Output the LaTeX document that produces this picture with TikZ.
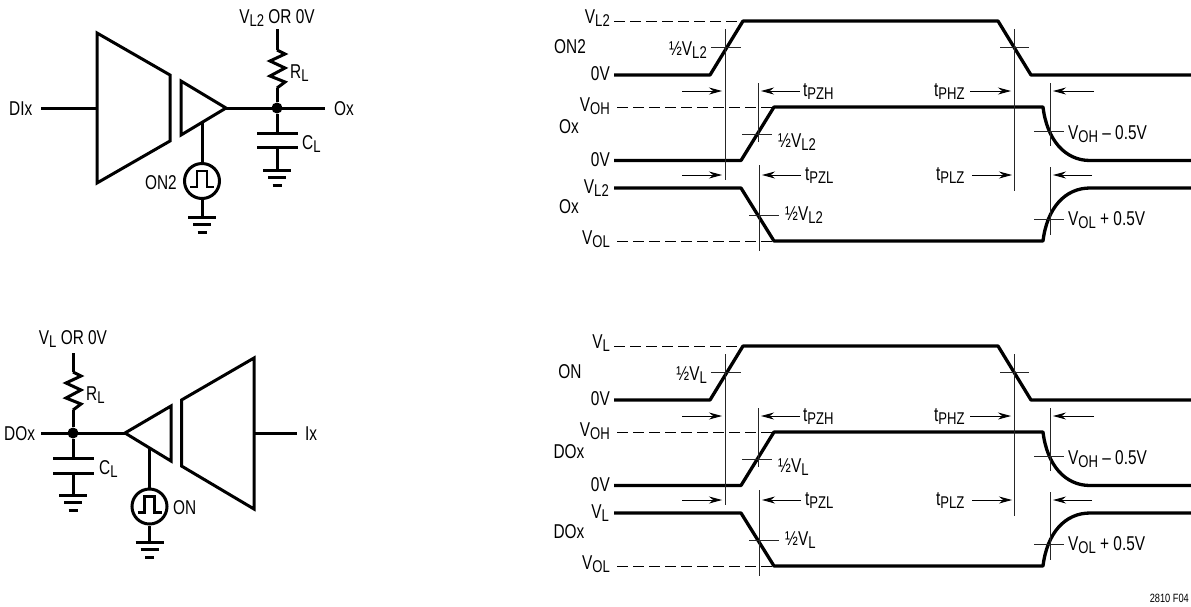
\documentclass[tikz,border=0pt]{standalone}
\usepackage{fontspec}
\setmainfont[FakeStretch=0.77]{Liberation Sans}
\usetikzlibrary{arrows.meta}
\newcommand{\lo}[1]{\raisebox{-3.5pt}{\fontsize{17}{17}\selectfont #1}}
\tikzset{
	wire/.style={line width=3pt,line join=miter},
	wave/.style={line width=3.3pt,line join=round},
	thin rule/.style={line width=0.9pt,black!85},
	dash rule/.style={line width=0.9pt,dash pattern=on 11pt off 5pt},
	timing arrow/.style={line width=0.9pt,-{Stealth[length=13pt,width=7pt]}},
	lbl/.style={inner sep=0pt,font=\fontsize{20}{22}\selectfont},
	dotnode/.style={circle,fill=black,inner sep=0pt,minimum size=11pt},
	srcnode/.style={circle,draw=black,line width=3pt,inner sep=0pt,minimum size=35pt},
	gnd/.pic={
		\draw[wire] (-14,0) -- (14,0);
		\draw[wire] (-9,7.5) -- (9,7.5);
		\draw[wire] (-4.5,15) -- (4.5,15);
	},
	res/.pic={
		\draw[wire] (0,0) -- (8,4) -- (-7,11) -- (8,18) -- (-7,26) -- (8,32) -- (0,38);
	},
	pulse/.pic={
		\draw[line width=2.2pt] (-12,6) -- (-5,6) -- (-5,-10) -- (5,-10) -- (5,6) -- (12,6);
	},
}
\begin{document}
\begin{tikzpicture}[x=1pt,y=-1pt]
	\useasboundingbox (0,0) rectangle (1191,606);

	% upper circuit
	\coordinate (a0) at (41,108);
	\coordinate (a1) at (97,108);
	\coordinate (a2) at (226,108);
	\coordinate (a3) at (325,108);
	\coordinate (a4) at (277,29);
	\coordinate (a5) at (277,50);
	\coordinate (a6) at (277,88);
	\coordinate (a7) at (277,133);
	\coordinate (a8) at (277,147);
	\coordinate (a9) at (277,170);
	\coordinate (a10) at (202,122);
	\coordinate (a11) at (202,217);

	\draw[wire] (97,33) -- (170,75) -- (170,141) -- (97,183) -- cycle;
	\draw[wire] (181,81) -- (a2) -- (181,135) -- cycle;
	\draw[wire] (a0) -- (a1);
	\draw[wire] (a2) -- (a3);
	\node[dotnode] (n0) at (277,108) {};
	\draw[wire] (a4) -- (a5);
	\pic at (a5) {res};
	\draw[wire] (a6) -- (n0);
	\draw[wire] (n0) -- (a7);
	\draw[wire] (257,133) -- (298,133);
	\draw[wire] (257,147) -- (298,147);
	\draw[wire] (a8) -- (a9);
	\pic at (a9) {gnd};
	\node[srcnode] (s0) at (202,181) {};
	\pic at (s0) {pulse};
	\draw[wire] (a10) -- (s0);
	\draw[wire] (s0) -- (a11);
	\pic at (a11) {gnd};

	\node[lbl,anchor=base west] (dix) at (9,115) {DIx};
	\node[lbl,anchor=base west] (ox0) at (334,115) {Ox};
	\node[lbl,anchor=base] (vl2or) at (277,23) {V\lo{L2} OR 0V};
	\node[lbl,anchor=base west] (rl0) at (290,78) {R\lo{L}};
	\node[lbl,anchor=base west] (cl0) at (302,149) {C\lo{L}};
	\node[lbl,anchor=base east] (on2) at (177,189) {ON2};

	% lower circuit
	\coordinate (b0) at (41,433);
	\coordinate (b1) at (125,433);
	\coordinate (b2) at (254,433);
	\coordinate (b3) at (297,433);
	\coordinate (b4) at (73,353);
	\coordinate (b5) at (73,372);
	\coordinate (b6) at (73,410);
	\coordinate (b7) at (73,458);
	\coordinate (b8) at (73,473);
	\coordinate (b9) at (73,495);
	\coordinate (b10) at (149.5,449);
	\coordinate (b11) at (149.5,542);

	\draw[wire] (254,358) -- (254,509) -- (181.5,466) -- (181.5,400) -- cycle;
	\draw[wire] (171,406) -- (b1) -- (171,461) -- cycle;
	\draw[wire] (b2) -- (b3);
	\draw[wire] (b0) -- (b1);
	\node[dotnode] (n1) at (73,433) {};
	\draw[wire] (b4) -- (b5);
	\pic at (b5) {res};
	\draw[wire] (b6) -- (n1);
	\draw[wire] (n1) -- (b7);
	\draw[wire] (53,458) -- (94,458);
	\draw[wire] (53,473) -- (94,473);
	\draw[wire] (b8) -- (b9);
	\pic at (b9) {gnd};
	\node[srcnode] (s1) at (149.5,506.5) {};
	\pic at (s1) {pulse};
	\draw[wire] (b10) -- (s1);
	\draw[wire] (s1) -- (b11);
	\pic at (b11) {gnd};

	\node[lbl,anchor=base west] (dox) at (4,440) {DOx};
	\node[lbl,anchor=base west] (ix) at (305,440) {Ix};
	\node[lbl,anchor=base] (vlor) at (73,344) {V\lo{L} OR 0V};
	\node[lbl,anchor=base west] (rl1) at (86,400) {R\lo{L}};
	\node[lbl,anchor=base west] (cl1) at (99,474) {C\lo{L}};
	\node[lbl,anchor=base west] (on) at (173,514) {ON};

	% timing panels, the lower one is the upper one moved down
	\foreach \ofs/\pfx/\vsub/\onlab/\olab in {0/p/L2/ON2/Ox,325/q/L/ON/DOx}{
	\begin{scope}[shift={(0,\ofs)}]
		\draw[wave] (614,75) -- (710,75) -- (743,21) -- (998,21) -- (1031,75) -- (1191,75);
		\draw[wave] (614,160.5) -- (741,160.5) -- (774,107) -- (1043,107)
			.. controls (1047,140) and (1065,160.5) .. (1090,160.5) -- (1191,160.5);
		\draw[wave] (614,188) -- (741,188) -- (774,241) -- (1043,241)
			.. controls (1047,208) and (1065,188) .. (1090,188) -- (1191,188);

		\draw[dash rule] (614,21) -- (743,21);
		\draw[dash rule] (617,107) -- (774,107);
		\draw[dash rule] (617,241) -- (774,241);

		\draw[thin rule] (725,29) -- (725,180);
		\draw[thin rule] (758,83) -- (758,142);
		\draw[thin rule] (759,165) -- (759,251);
		\draw[thin rule] (1014.5,29) -- (1014.5,191);
		\draw[thin rule] (1050,83) -- (1050,146);
		\draw[thin rule] (1050,167) -- (1050,235);

		\draw[thin rule] (711,47) -- (741,47);
		\draw[thin rule] (742,134) -- (772,134);
		\draw[thin rule] (749,215) -- (779,215);
		\draw[thin rule] (1000,47) -- (1029,47);
		\draw[thin rule] (1034,131) -- (1064,131);
		\draw[thin rule] (1034,219) -- (1064,219);

		\draw[timing arrow] (682,91) -- (722,91);
		\draw[timing arrow] (800,91) -- (761,91);
		\draw[timing arrow] (682,175) -- (722,175);
		\draw[timing arrow] (801,175) -- (762,175);
		\draw[timing arrow] (970,91) -- (1011,91);
		\draw[timing arrow] (1094,91) -- (1053,91);
		\draw[timing arrow] (972,175) -- (1012,175);
		\draw[timing arrow] (1092,175) -- (1053,175);

		\node[lbl,anchor=base] (\pfx on) at (570,53) {\onlab};
		\node[lbl,anchor=base] (\pfx ox) at (569,133) {\olab};
		\node[lbl,anchor=base] (\pfx oy) at (569,213) {\olab};

		\node[lbl,anchor=base east] (\pfx v0) at (610,23) {V\lo{\vsub}};
		\node[lbl,anchor=base east] (\pfx v1) at (610,80) {0V};
		\node[lbl,anchor=base east] (\pfx v2) at (610,111) {V\lo{OH}};
		\node[lbl,anchor=base east] (\pfx v3) at (610,166) {0V};
		\node[lbl,anchor=base east] (\pfx v4) at (609,193) {V\lo{\vsub}};
		\node[lbl,anchor=base east] (\pfx v5) at (610,244) {V\lo{OL}};

		\node[lbl,anchor=base east] (\pfx h0) at (707,55) {½V\lo{\vsub}};
		\node[lbl,anchor=base west] (\pfx h1) at (778,147) {½V\lo{\vsub}};
		\node[lbl,anchor=base west] (\pfx h2) at (785,220) {½V\lo{\vsub}};

		\node[lbl,anchor=base west] (\pfx t0) at (803,96) {t\lo{PZH}};
		\node[lbl,anchor=base west] (\pfx t1) at (805,180) {t\lo{PZL}};
		\node[lbl,anchor=base west] (\pfx t2) at (934,96) {t\lo{PHZ}};
		\node[lbl,anchor=base west] (\pfx t3) at (936,180) {t\lo{PLZ}};

		\node[lbl,anchor=base west] (\pfx r0) at (1068,139) {V\lo{OH} – 0.5V};
		\node[lbl,anchor=base west] (\pfx r1) at (1068,225) {V\lo{OL} + 0.5V};
	\end{scope}
	}

	\node[inner sep=0pt,anchor=base east,font=\fontsize{12}{13}\selectfont] (fig) at (1189,602) {2810 F04};
\end{tikzpicture}
\end{document}
